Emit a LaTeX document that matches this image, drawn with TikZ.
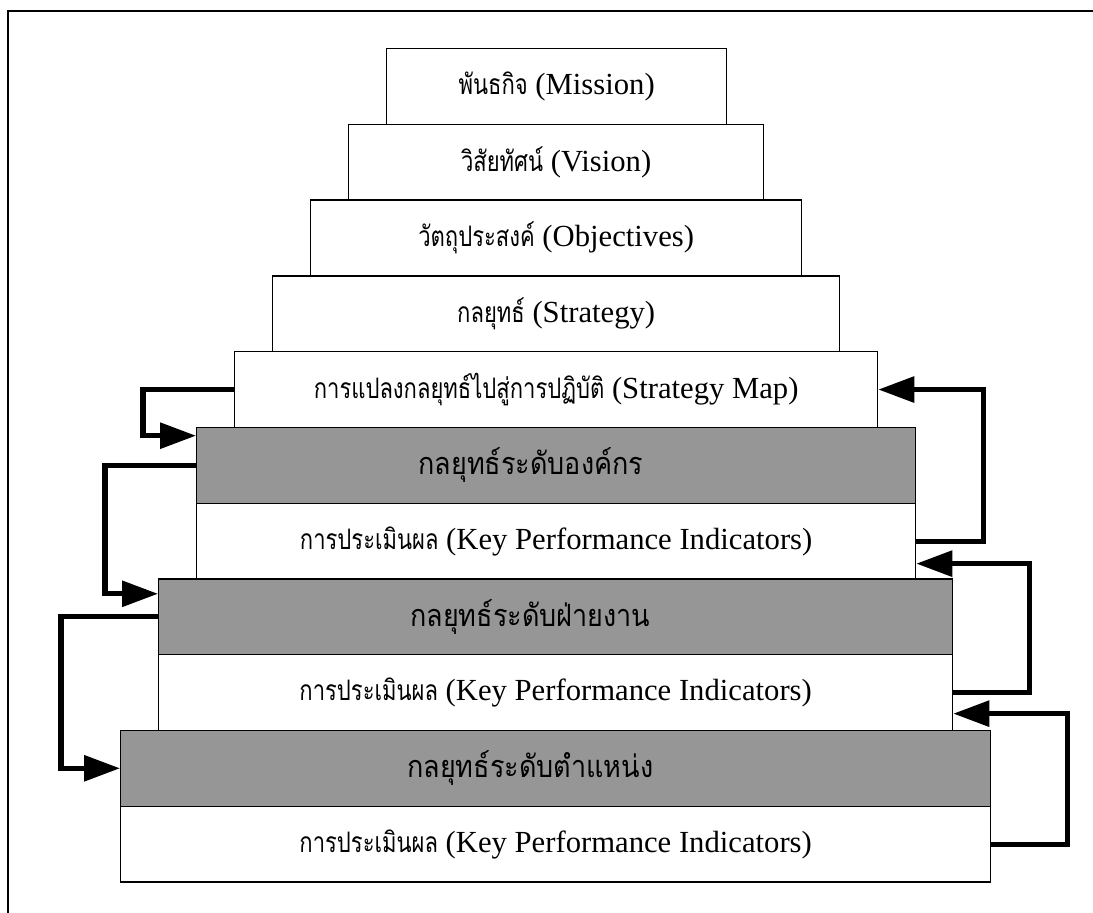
\documentclass[tikz,border=0pt]{standalone}
\usepackage{fontspec}
\setmainfont{Liberation Serif}
\newfontfamily\thai[Script=Thai,Scale=0.92,FakeStretch=0.78]{Loma}
\newfontfamily\thaiband[Script=Thai,Scale=1.0,FakeStretch=0.88]{Loma}
\usetikzlibrary{arrows.meta,calc}
\definecolor{tiergray}{RGB}{150,150,150}
\newcommand{\bandtext}[1]{#1\hspace*{38pt}}
\begin{document}
\begin{tikzpicture}[x=0.75pt,y=-0.75pt,
  tier/.style={draw=black,line width=1pt,rectangle,inner sep=0pt,
    minimum height=75.75*0.75pt,font=\fontsize{23}{26}\selectfont},
  band/.style={tier,fill=tiergray,font=\fontsize{23}{26}\selectfont\thaiband},
  plain/.style={tier,fill=white},
  loopline/.style={line width=3.8pt,-{Triangle[length=27pt,width=19pt]}},
  frameline/.style={line width=1.5pt}]
\useasboundingbox (0,0) rectangle (1093,913);
\draw[frameline] (1093,11) -- (8,11) -- (8,913);
% stepped tiers: style, name, left edge, right edge, top, text
\newcommand{\tierbox}[6]{%
  \node[#1,minimum width={(#4-#3)*0.75pt},anchor=north west] (#2) at (#3,#5) {#6};}
\tierbox{plain}{mission}{386}{726}{48}{{\thai พันธกิจ} (Mission)}
\tierbox{plain}{vision}{348}{763}{123.75}{{\thai วิสัยทัศน์} (Vision)}
\tierbox{plain}{objectives}{310}{801}{199.5}{{\thai วัตถุประสงค์} (Objectives)}
\tierbox{plain}{strategy}{272}{839}{275.25}{{\thai กลยุทธ์} (Strategy)}
\tierbox{plain}{map}{234}{877}{351}{{\thai การแปลงกลยุทธ์ไปสู่การปฏิบัติ} (Strategy Map)}
\tierbox{band}{org}{196}{915}{426.75}{\bandtext{กลยุทธ์ระดับองค์กร}}
\tierbox{plain}{orgkpi}{196}{915}{502.5}{{\thai การประเมินผล} (Key Performance Indicators)}
\tierbox{band}{dept}{158}{952}{578.25}{\bandtext{กลยุทธ์ระดับฝ่ายงาน}}
\tierbox{plain}{deptkpi}{158}{952}{654}{{\thai การประเมินผล} (Key Performance Indicators)}
\tierbox{band}{pos}{120}{990}{729.75}{\bandtext{กลยุทธ์ระดับตำแหน่ง}}
\tierbox{plain}{poskpi}{120}{990}{805.5}{{\thai การประเมินผล} (Key Performance Indicators)}
% feedback loops on the left
\draw[loopline] (map.west) -- ++(-91,0) |- ($(org.west)+(0,-29.6)$);
\draw[loopline] (org.west) -- ++(-91,0) |- ($(dept.west)+(0,-23)$);
\draw[loopline] (dept.west) -- ++(-97,0) |- (pos.west);
% feedback loops on the right
\draw[loopline] (orgkpi.east) -- ++(67,0) |- (map.east);
\draw[loopline] (deptkpi.east) -- ++(76,0) |- ($(orgkpi.east)+(0,22.6)$);
\draw[loopline] (poskpi.east) -- ++(76,0) |- ($(deptkpi.east)+(0,21.1)$);
\end{tikzpicture}
\end{document}
